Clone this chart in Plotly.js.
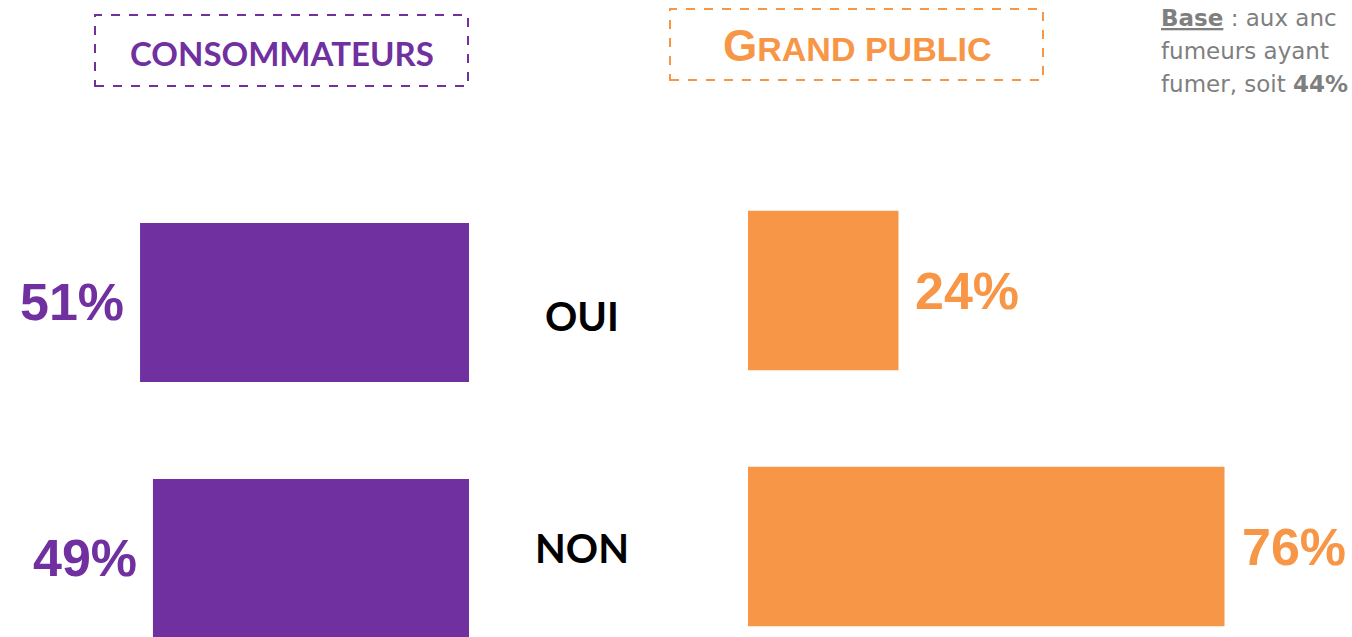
<!DOCTYPE html>
<html>
<head>
<meta charset="utf-8">
<script src="https://cdn.plot.ly/plotly-3.0.1.min.js"></script>
<style>html,body{margin:0;padding:0;background:#fff;overflow:hidden}#chart{width:1352px;height:637px}</style>
</head>
<body>
<div id="chart"></div>
<script>
const categories = ["OUI", "NON"];
const consommateurs = [51, 49];
const grandPublic = [24, 76];
const groupTitles = ["CONSOMMATEURS", "GRAND PUBLIC"];
const baseNote = ["<span style=\"text-decoration:underline\"><b>Base</b></span> : aux anc", "fumeurs ayant", "fumer, soit <b>44%</b>"];

const PURPLE = "#7030A0";
const ORANGE = "#F79646";
const W = 1352, H = 637;

const traces = [
  {type: "bar", orientation: "h", y: categories, x: consommateurs, xaxis: "x", yaxis: "y",
   marker: {color: PURPLE}, width: 0.621, hoverinfo: "skip"},
  {type: "bar", orientation: "h", y: categories, x: grandPublic, xaxis: "x2", yaxis: "y2",
   marker: {color: ORANGE}, width: 0.623, hoverinfo: "skip"}
];

const labelFont = {family: "Liberation Sans, Arial, sans-serif", size: 52};
const annotations = [];
categories.forEach((c, i) => {
  annotations.push({xref: "x", yref: "y", x: consommateurs[i], y: c, text: "<b>" + consommateurs[i] + "%</b>",
    showarrow: false, xanchor: "right", xshift: -14, font: Object.assign({color: PURPLE}, labelFont)});
  annotations.push({xref: "x2", yref: "y2", x: grandPublic[i], y: c, text: "<b>" + grandPublic[i] + "%</b>",
    showarrow: false, xanchor: "left", xshift: 15, font: Object.assign({color: ORANGE}, labelFont)});
});
// central category labels
annotations.push({xref: "paper", yref: "y", x: 582 / W, y: categories[0], yshift: -14, text: "<b>" + categories[0] + "</b>",
  xanchor: "center", showarrow: false, font: {family: "Lato, sans-serif", size: 40, color: "#000"}});
annotations.push({xref: "paper", yref: "y", x: 582 / W, y: categories[1], yshift: 10, text: "<b>" + categories[1] + "</b>",
  xanchor: "center", showarrow: false, font: {family: "Lato, sans-serif", size: 40, color: "#000"}});
// group titles
annotations.push({xref: "paper", yref: "paper", x: 282 / W, y: 1 - 53 / H, xanchor: "center", yanchor: "middle",
  text: "<b>" + groupTitles[0] + "</b>",
  showarrow: false, font: {family: "Lato, sans-serif", size: 33, color: PURPLE}});
annotations.push({xref: "paper", yref: "paper", x: 857 / W, y: 1 - 45 / H, xanchor: "center", yanchor: "middle",
  text: "<b><span style=\"font-size:44px\">G</span>RAND PUBLIC</b>",
  showarrow: false, font: {family: "Liberation Sans, Arial, sans-serif", size: 34, color: ORANGE}});
// base note, one line per annotation
const noteY = [18, 51, 84];
baseNote.forEach((line, i) => {
  annotations.push({xref: "paper", yref: "paper", x: 1159 / W, y: 1 - noteY[i] / H, xanchor: "left", yanchor: "middle", align: "left",
    text: line, showarrow: false,
    font: {family: "DejaVu Sans, sans-serif", size: 23, color: "#7f7f7f"}});
});

const shapes = [
  {type: "rect", xref: "paper", yref: "paper", x0: 95 / W, x1: 468 / W, y0: 1 - 86 / H, y1: 1 - 15 / H,
   line: {color: PURPLE, width: 2, dash: "dash"}},
  {type: "rect", xref: "paper", yref: "paper", x0: 670 / W, x1: 1043 / W, y0: 1 - 80 / H, y1: 1 - 9 / H,
   line: {color: ORANGE, width: 2, dash: "dash"}}
];

const layout = {
  width: W, height: H,
  margin: {l: 0, r: 0, t: 0, b: 0},
  paper_bgcolor: "#fff", plot_bgcolor: "#fff",
  showlegend: false,
  xaxis: {domain: [0, 469 / W], range: [469 / 6.45, 0], visible: false, fixedrange: true},
  xaxis2: {domain: [748 / W, 1], range: [0, 604 / 6.27], visible: false, fixedrange: true},
  yaxis: {type: "category", range: [1.3067, -1.1816], visible: false, anchor: "x", fixedrange: true},
  yaxis2: {type: "category", range: [1.3535, -1.1348], visible: false, anchor: "x2", fixedrange: true},
  annotations: annotations,
  shapes: shapes
};

Plotly.newPlot("chart", traces, layout, {displayModeBar: false, staticPlot: true});
</script>
</body>
</html>
